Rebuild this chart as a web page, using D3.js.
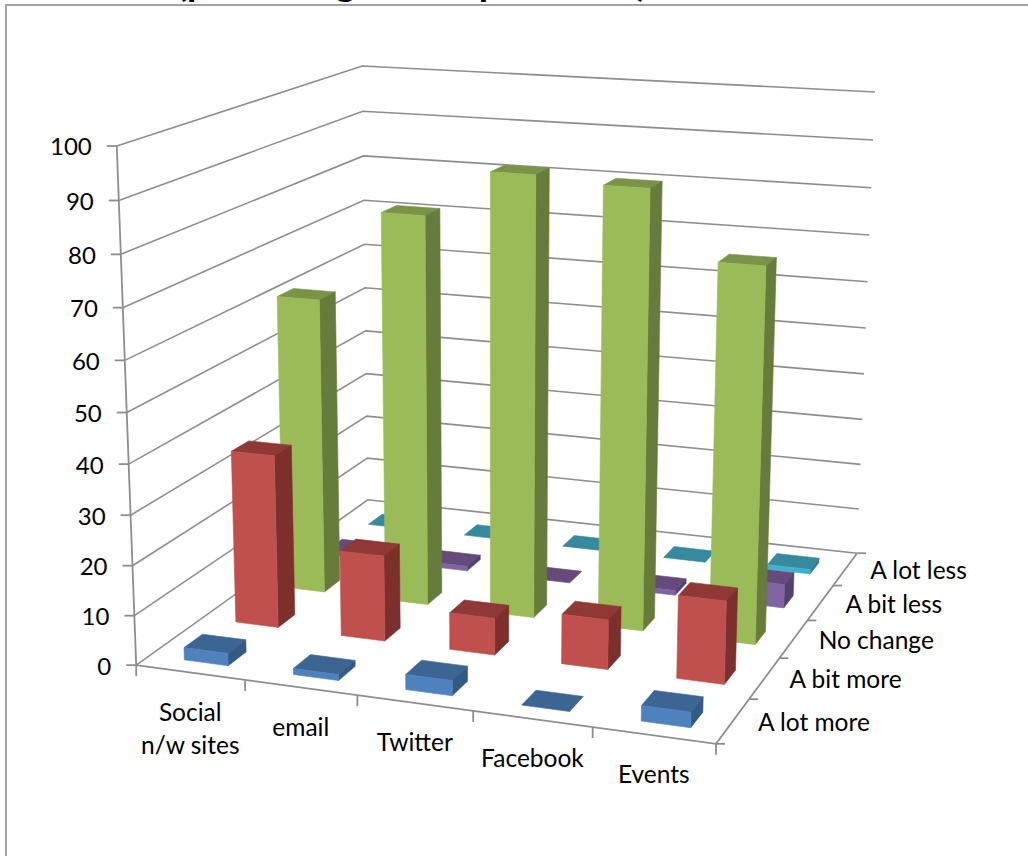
<!DOCTYPE html>
<html>
<head>
<meta charset="utf-8">
<style>
html,body{margin:0;padding:0;background:#fff;overflow:hidden}
svg{display:block}
text{font-family:Lato,"Open Sans",sans-serif;fill:#000}
</style>
<script src="https://cdn.jsdelivr.net/npm/d3@7/dist/d3.min.js"></script>
</head>
<body>
<svg id="chart" width="1028" height="856"></svg>
<script>
// Channels along the front edge and response rows running back into the chart.
const channels = [["Social","n/w sites"],["email"],["Twitter"],["Facebook"],["Events"]];
const responses = ["A lot more","A bit more","No change","A bit less","A lot less"];
const zTicks = [0,10,20,30,40,50,60,70,80,90,100];

const aLotMore = [2.5,1.2,3,0,3];
const aBitMore = [35.5,17.5,7.5,10,16.5];
const noChange = [61.8,80.5,90,88.8,75.5];
const aBitLess = [1,1,0,1,5];
const aLotLess = [0,0,0,0,1];
const seriesValues = [aLotMore,aBitMore,noChange,aBitLess,aLotLess];

// Front, top and side shades for each response row.
const frontColors = ["#4f81bd","#c0504d","#9bbb59","#8064a2","#3fb0cf"];
const topColors   = ["#3d6594","#8f3836","#7a9347","#644b7c","#36899f"];
const sideColors  = ["#335a85","#7d2f2d","#667c3b","#54406f","#2f7d92"];

// Where the corners of the plot box land on the page: [x, depth, height, px, py].
const boxCorners = [
  [0,0,0,136,665],[1,0,0,716,744],[1,1,0,857,553],[0,1,0,368,500],
  [0,0,1,117,146],[0,1,1,362,66],[1,1,1,875,92]
];

// Least-squares fit of the 3x4 perspective camera for the box corners.
function fitCamera(pts){
  const rows=[],rhs=[];
  pts.forEach(([x,y,z,u,v])=>{
    rows.push([x,y,z,1,0,0,0,0,-u*x,-u*y,-u*z]);rhs.push(u);
    rows.push([0,0,0,0,x,y,z,1,-v*x,-v*y,-v*z]);rhs.push(v);
  });
  const n=11,M=d3.range(n).map(i=>d3.range(n+1).map(j=>{
    let s=0;
    rows.forEach((r,k)=>{s+=r[i]*(j<n?r[j]:rhs[k]);});
    return s+(i===j?1e-9:0);
  }));
  for(let i=0;i<n;i++){
    let p=i;
    for(let r=i+1;r<n;r++) if(Math.abs(M[r][i])>Math.abs(M[p][i])) p=r;
    [M[i],M[p]]=[M[p],M[i]];
    for(let r=0;r<n;r++){
      if(r===i) continue;
      const f=M[r][i]/M[i][i];
      for(let c=i;c<=n;c++) M[r][c]-=f*M[i][c];
    }
  }
  return M.map((r,i)=>r[n]/r[i]);
}
const cam=fitCamera(boxCorners);
function project(x,y,z){
  const w=cam[8]*x+cam[9]*y+cam[10]*z+1;
  return [(cam[0]*x+cam[1]*y+cam[2]*z+cam[3])/w,(cam[4]*x+cam[5]*y+cam[6]*z+cam[7])/w];
}

const xBand=d3.scaleBand().domain(d3.range(channels.length)).range([0,1]).paddingInner(0.595).paddingOuter(0.2975).align(0.54);
const yBand=d3.scaleBand().domain(d3.range(responses.length)).range([0,1]).paddingInner(0.65).paddingOuter(0.325).align(0.385);
const zScale=d3.scaleLinear().domain([0,100]).range([0,1]);

const svg=d3.select("#chart");
const line=d3.line();
const gridColor="#8e8e8e";

// Title sits above the chart frame.
svg.append("text").attr("class","title").attr("x",412).attr("y",-4)
  .attr("text-anchor","middle").style("font-weight","700").style("font-size","38px")
  .text("(percentage of respondents)");

// Chart frame; its right and bottom edges run past the page.
svg.append("rect").attr("x",6).attr("y",5).attr("width",1100).attr("height",950)
  .attr("fill","#fff").attr("stroke","#a3a3a3").attr("stroke-width",2);

// Gridlines across the side and back walls.
svg.append("g").selectAll("path").data(zTicks).join("path")
  .attr("d",t=>{const z=zScale(t);return line([project(0,0,z),project(0,1,z),project(1,1,z)]);})
  .attr("fill","none").attr("stroke",gridColor).attr("stroke-width",1.6);

// Floor edges and the value axis.
const axes=svg.append("g").attr("fill","none").attr("stroke",gridColor).attr("stroke-width",1.8);
axes.append("path").attr("d",line([project(0,0,0),project(0,0,1)]));
axes.append("path").attr("d",line([project(0,0,0),project(1,0,0),project(1,1,0)]));

zTicks.forEach(t=>{
  const [px,py]=project(0,0,zScale(t));
  axes.append("path").attr("d",line([[px-10,py],[px,py]]));
  svg.append("text").attr("x",px-25).attr("y",py+1).attr("dy","0.35em")
    .attr("text-anchor","end").style("font-size","24px").text(t);
});
d3.range(channels.length+1).forEach(i=>{
  const [px,py]=project(i/channels.length,0,0);
  axes.append("path").attr("d",line([[px,py],[px,py+11]]));
});
d3.range(responses.length+1).forEach(i=>{
  const [px,py]=project(1,i/responses.length,0);
  axes.append("path").attr("d",line([[px,py],[px+9,py]]));
});

channels.forEach((lines,i)=>{
  const [px,py]=project((i+0.5)/channels.length,0,0);
  lines.forEach((s,k)=>{
    svg.append("text").attr("x",px).attr("y",py+39.5+k*33).attr("dy","0.35em")
      .attr("text-anchor","middle").style("font-size","24.5px").text(s);
  });
});
responses.forEach((s,j)=>{
  const [px,py]=project(1,(j+0.5)/responses.length,0);
  svg.append("text").attr("x",px+25).attr("y",py+1.5).attr("dy","0.35em")
    .style("font-size","24.5px").text(s);
});

// Bars are painted from the back row forward so nearer ones overlap farther ones.
const barLayer=svg.append("g");
d3.range(responses.length).reverse().forEach(j=>{
  const y0=yBand(j),y1=y0+yBand.bandwidth();
  seriesValues[j].forEach((v,i)=>{
    const x0=xBand(i),x1=x0+xBand.bandwidth(),z=zScale(v);
    const faces=[
      {c:topColors[j],p:[[x0,y0,z],[x1,y0,z],[x1,y1,z],[x0,y1,z]]}
    ];
    if(v>0){
      faces.push({c:sideColors[j],p:[[x1,y0,0],[x1,y1,0],[x1,y1,z],[x1,y0,z]]});
      faces.push({c:frontColors[j],p:[[x0,y0,0],[x1,y0,0],[x1,y0,z],[x0,y0,z]]});
    }
    faces.forEach(f=>{
      barLayer.append("path")
        .attr("d",line(f.p.map(q=>project(...q)))+"Z")
        .attr("fill",f.c).attr("stroke",f.c).attr("stroke-width",0.6);
    });
  });
});
</script>
</body>
</html>
